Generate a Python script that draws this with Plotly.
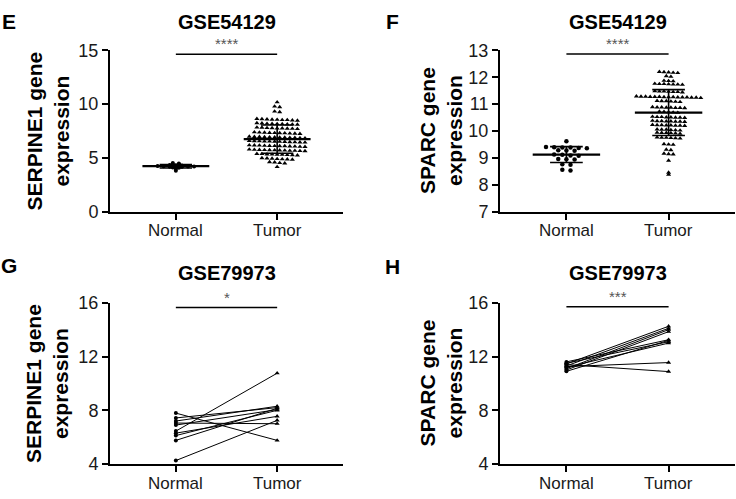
import plotly.graph_objects as go
import numpy as np

groups = ["Normal", "Tumor"]

# GSE54129 SERPINE1 (panel E)
e_normal = [4.52, 4.48, 4.40, 4.38, 4.33, 4.31, 4.29,
            4.23, 4.22, 4.22, 4.21, 4.20, 4.20, 4.19, 4.18, 4.18, 4.17,
            4.10, 4.08, 3.95, 3.80]
e_tumor = [10.18,
           9.78, 9.72,
           9.32, 9.26,
           8.58, 8.52, 8.61, 8.49, 8.55, 8.63, 8.47, 8.56, 8.53,
           8.18, 8.12, 8.21, 8.09, 8.15, 8.23, 8.11, 8.17, 8.14,
           7.78, 7.72, 7.81, 7.69, 7.75, 7.83, 7.71, 7.77, 7.74,
           7.33, 7.27, 7.36, 7.24, 7.30, 7.38, 7.26, 7.32, 7.29, 7.35,
           6.93, 6.87, 6.96, 6.84, 6.90, 6.98, 6.86, 6.92, 6.89, 6.95, 6.83, 6.91,
           6.53, 6.47, 6.56, 6.44, 6.50, 6.58, 6.46, 6.52, 6.49, 6.55, 6.43, 6.51,
           6.13, 6.07, 6.16, 6.04, 6.10, 6.18, 6.06, 6.12, 6.09, 6.15, 6.03, 6.11,
           5.73, 5.67, 5.76, 5.64, 5.70, 5.78, 5.66, 5.72, 5.69, 5.75, 5.63, 5.71,
           5.33, 5.27, 5.36, 5.24, 5.30, 5.38, 5.26, 5.32, 5.29,
           4.93, 4.87, 4.96, 4.84, 4.90, 4.98, 4.86,
           4.58, 4.52, 4.61, 4.49,
           4.15]

# GSE54129 SPARC (panel F)
f_normal = [9.62,
            9.39, 9.37, 9.40, 9.36, 9.38, 9.38,
            9.28, 9.26, 9.27,
            9.11, 9.09, 9.12, 9.08,
            8.96, 8.94, 8.95,
            8.76, 8.74,
            8.56, 8.53]
f_tumor = [12.19, 12.17, 12.20, 12.16, 12.18,
           12.04, 12.02,
           11.87, 11.85, 11.86,
           11.75, 11.73, 11.76, 11.72, 11.74, 11.75, 11.73,
           11.47, 11.45, 11.48, 11.44, 11.46, 11.47, 11.45,
           11.27, 11.25, 11.28, 11.24, 11.26, 11.29, 11.23, 11.27, 11.25, 11.26,
           11.28, 11.24, 11.27, 11.25, 11.26,
           11.11, 11.09, 11.12, 11.08, 11.10, 11.11,
           10.88, 10.86, 10.89, 10.85, 10.87, 10.88, 10.86, 10.87,
           10.71, 10.69, 10.72, 10.68, 10.70,
           10.52, 10.50, 10.53, 10.49, 10.51, 10.52, 10.50, 10.51,
           10.37, 10.35, 10.38, 10.34, 10.36, 10.37, 10.35, 10.36,
           10.22, 10.20, 10.23, 10.19, 10.21, 10.22, 10.20, 10.21,
           10.05, 10.03, 10.06, 10.02, 10.04, 10.05,
           9.93, 9.91, 9.94, 9.90, 9.92, 9.93,
           9.75, 9.73, 9.76, 9.72, 9.74, 9.75,
           9.51, 9.49, 9.50,
           9.31, 9.29,
           9.16, 9.14, 9.13,
           8.90,
           8.45, 8.38]

# GSE79973 paired samples (panels G, H)
g_normal = [7.79, 7.43, 7.20, 7.05, 6.90, 6.45, 6.30, 6.12, 5.76, 4.26]
g_tumor = [5.76, 8.20, 8.30, 7.00, 8.05, 10.76, 7.55, 8.00, 8.15, 7.25]
h_normal = [11.45, 11.30, 11.10, 11.00, 10.90, 11.50, 11.20, 11.60, 11.25, 11.40]
h_tumor = [14.25, 14.10, 14.00, 13.85, 13.20, 13.10, 13.00, 13.25, 11.55, 10.88]

FONT = "Arial, Liberation Sans, sans-serif"


def swarm(values, tol, dx):
    idx = sorted(range(len(values)), key=lambda i: -values[i])
    offs = [0.0] * len(values)
    rows = []
    for i in idx:
        if rows and rows[-1][0] - values[i] <= tol:
            rows[-1][1].append(i)
        else:
            rows.append([values[i], [i]])
    for _, members in rows:
        n = len(members)
        for k, i in enumerate(members):
            offs[i] = (k - (n - 1) / 2) * dx
    return offs


fig = go.Figure()


def scatter_panel(vals, pos, symbol, size, tol, dx, xa, ya):
    offs = swarm(vals, tol, dx)
    fig.add_trace(go.Scatter(x=[pos + o for o in offs], y=vals, mode="markers",
                             marker=dict(symbol=symbol, size=size, color="black", line=dict(width=0)),
                             xaxis=xa, yaxis=ya, showlegend=False, hoverinfo="skip"))
    m = float(np.mean(vals))
    sd = float(np.std(vals, ddof=1))
    fig.add_trace(go.Scatter(x=[pos - 0.33, pos + 0.33], y=[m, m], mode="lines",
                             line=dict(color="black", width=2.2), xaxis=xa, yaxis=ya,
                             showlegend=False, hoverinfo="skip"))
    fig.add_trace(go.Scatter(x=[pos, pos, None, pos - 0.16, pos + 0.16, None, pos - 0.16, pos + 0.16],
                             y=[m - sd, m + sd, None, m - sd, m - sd, None, m + sd, m + sd],
                             mode="lines", line=dict(color="black", width=1.6), xaxis=xa, yaxis=ya,
                             showlegend=False, hoverinfo="skip"))


scatter_panel(e_normal, 0, "circle", 4, 0.05, 0.06, "x", "y")
scatter_panel(e_tumor, 1, "triangle-up", 4.5, 0.2, 0.05, "x", "y")
scatter_panel(f_normal, 0, "circle", 4.5, 0.05, 0.08, "x2", "y2")
scatter_panel(f_tumor, 1, "triangle-up", 4.5, 0.06, 0.045, "x2", "y2")


def paired_panel(nv, tv, xa, ya):
    xs, ys = [], []
    for a, b in zip(nv, tv):
        xs += [0, 1, None]
        ys += [a, b, None]
    fig.add_trace(go.Scatter(x=xs, y=ys, mode="lines", line=dict(color="black", width=1),
                             xaxis=xa, yaxis=ya, showlegend=False, hoverinfo="skip"))
    fig.add_trace(go.Scatter(x=[0] * len(nv), y=nv, mode="markers",
                             marker=dict(symbol="circle", size=4, color="black"),
                             xaxis=xa, yaxis=ya, showlegend=False, hoverinfo="skip"))
    fig.add_trace(go.Scatter(x=[1] * len(tv), y=tv, mode="markers",
                             marker=dict(symbol="triangle-up", size=4.5, color="black"),
                             xaxis=xa, yaxis=ya, showlegend=False, hoverinfo="skip"))


paired_panel(g_normal, g_tumor, "x3", "y3")
paired_panel(h_normal, h_tumor, "x4", "y4")

W, H = 736, 499
xdomL = [110 / W, 343 / W]
xdomR = [500 / W, 735 / W]
ydomT = [1 - 210 / H, 1 - 42 / H]
ydomB = [1 - 473 / H, 1 - 305 / H]


def xaxis(dom, anchor):
    return dict(domain=dom, anchor=anchor, range=[-0.65, 1.65], tickvals=[0, 1],
                showticklabels=False,
                showline=True, linewidth=2, linecolor="black", ticks="outside", ticklen=6,
                tickwidth=2, tickcolor="black", showgrid=False, zeroline=False)


def yaxis(dom, anchor, rng, dtick):
    return dict(domain=dom, anchor=anchor, range=rng, dtick=dtick, tick0=rng[0],
                showline=True, linewidth=2, linecolor="black", ticks="outside", ticklen=6,
                tickwidth=2, tickcolor="black", showgrid=False, zeroline=False,
                tickfont=dict(family=FONT, size=18, color="#1a1a1a"))


fig.update_layout(
    width=W, height=H, autosize=False,
    margin=dict(l=0, r=0, t=0, b=0),
    paper_bgcolor="white", plot_bgcolor="white",
    xaxis=xaxis(xdomL, "y"), yaxis=yaxis(ydomT, "x", [0, 15], 5),
    xaxis2=xaxis(xdomR, "y2"), yaxis2=yaxis(ydomT, "x2", [7, 13], 1),
    xaxis3=xaxis(xdomL, "y3"), yaxis3=yaxis(ydomB, "x3", [4, 16], 4),
    xaxis4=xaxis(xdomR, "y4"), yaxis4=yaxis(ydomB, "x4", [4, 16], 4),
    showlegend=False,
)

# category labels under the x axes
for xa, ypx in [("x", 230), ("x2", 230), ("x3", 493), ("x4", 493)]:
    for i, g in enumerate(groups):
        fig.add_annotation(x=i, y=1 - ypx / H, xref=xa, yref="paper", text=g, showarrow=False,
                           xanchor="center", yanchor="middle",
                           font=dict(family=FONT, size=17, color="#1a1a1a"))

# significance bars
sig = [("x", "y", 14.64, "****"), ("x2", "y2", 12.86, "****"),
       ("x3", "y3", 15.64, "*"), ("x4", "y4", 15.7, "***")]
for xa, ya, yv, stars in sig:
    fig.add_shape(type="line", xref=xa, yref=ya, x0=0, x1=1, y0=yv, y1=yv,
                  line=dict(color="black", width=1.5))
    fig.add_annotation(x=0.5, y=yv, xref=xa, yref=ya, text=stars, showarrow=False,
                       yanchor="bottom", font=dict(family=FONT, size=15, color="#555555"))

# panel letters
for t, px, py in [("E", 9, 12), ("F", 393, 12), ("G", 9, 266), ("H", 393, 267)]:
    fig.add_annotation(x=px / W, y=1 - py / H, xref="paper", yref="paper", text="<b>%s</b>" % t,
                       showarrow=False, xanchor="center", yanchor="middle",
                       font=dict(family=FONT, size=21, color="black"))

# panel titles
for t, px, py in [("GSE54129", 226.5, 12), ("GSE54129", 618, 12),
                  ("GSE79973", 226.5, 274), ("GSE79973", 618, 274)]:
    fig.add_annotation(x=px / W, y=1 - py / H, xref="paper", yref="paper", text="<b>%s</b>" % t,
                       showarrow=False, xanchor="center", yanchor="middle",
                       font=dict(family=FONT, size=20, color="black"))

# y axis titles
for t, px, py in [("SERPINE1 gene<br>expression", 47.5, 126), ("SPARC gene<br>expression", 441, 126),
                  ("SERPINE1 gene<br>expression", 47.5, 389), ("SPARC gene<br>expression", 441, 389)]:
    fig.add_annotation(x=px / W, y=1 - py / H, xref="paper", yref="paper", text="<b>%s</b>" % t,
                       showarrow=False, xanchor="center", yanchor="middle", textangle=-90,
                       font=dict(family=FONT, size=21, color="black"))

fig.write_html("out.html", config={"displayModeBar": False, "staticPlot": True},
               post_script="document.body.style.margin='0';document.body.style.padding='0';")
